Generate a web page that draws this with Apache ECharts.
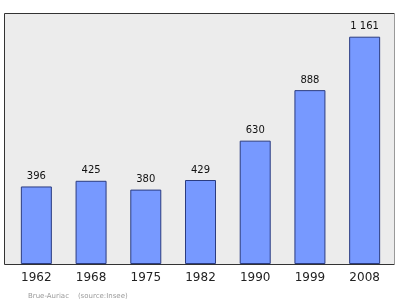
<!DOCTYPE html>
<html><head><meta charset="utf-8">
<script src="https://cdn.jsdelivr.net/npm/echarts@6/dist/echarts.min.js"></script>
<style>html,body{margin:0;padding:0;background:#fff}#c{width:400px;height:299px}</style>
</head><body><div id="c"></div>
<script>
const years = ['1962','1968','1975','1982','1990','1999','2008'];
const population = [396, 425, 380, 429, 630, 888, 1161];
const footerText = 'Brue-Auriac    (source:Insee)';

function fmt(v){ return String(v).replace(/\B(?=(\d{3})+(?!\d))/g, ' '); }

const chart = echarts.init(document.getElementById('c'), null, {renderer:'canvas'});
chart.setOption({
  animation: false,
  backgroundColor: '#fff',
  title: {
    text: footerText, left: 23, top: 288,
    textStyle: {fontSize: 7, fontWeight: 'normal', color: '#9a9a9a', fontFamily: 'DejaVu Sans'}
  },
  graphic: [
    {type: 'rect', z: -1, silent: true,
     shape: {x: 4.5, y: 13.5, width: 390, height: 251},
     style: {fill: '#ececec', stroke: null}},
    {type: 'polyline', z: -1, silent: true,
     shape: {points: [[394.5, 13.5], [4.5, 13.5], [4.5, 264.5], [394.5, 264.5]]},
     style: {stroke: '#333', lineWidth: 1, fill: null}},
    {type: 'line', z: -1, silent: true,
     shape: {x1: 394.5, y1: 13.5, x2: 394.5, y2: 264.5},
     style: {stroke: '#999', lineWidth: 1}}
  ],
  grid: {left: 9, right: 8, top: 13, bottom: 35},
  xAxis: {
    type: 'category', data: years,
    axisLine: {show: false}, axisTick: {show: false},
    axisLabel: {fontSize: 12, color: '#222', margin: 8, fontFamily: 'DejaVu Sans'}
  },
  yAxis: {
    type: 'value', min: 0, max: 1282,
    show: false, splitLine: {show: false}
  },
  series: [{
    type: 'bar', data: population, barWidth: 31,
    itemStyle: {color: '#7799ff', borderColor: '#2b3c80', borderWidth: 1},
    label: {show: true, position: 'top', distance: 5, fontSize: 10, color: '#111',
      fontFamily: 'DejaVu Sans', formatter: p => fmt(p.value)}
  }]
});
</script></body></html>
